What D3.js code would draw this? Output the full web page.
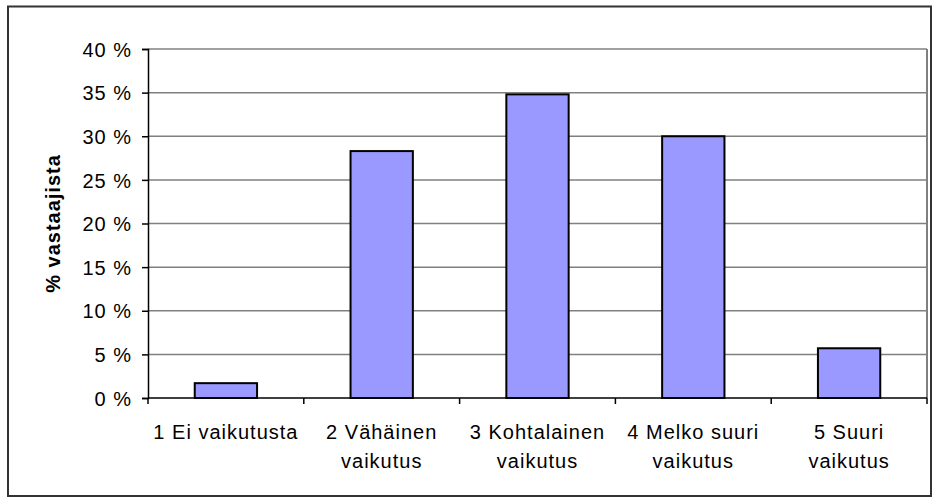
<!DOCTYPE html>
<html>
<head>
<meta charset="utf-8">
<script src="https://cdn.jsdelivr.net/npm/d3@7"></script>
<style>
  body { margin: 0; background: #fff; }
  text { font-family: "Liberation Sans", Arial, sans-serif; fill: #000; }
</style>
</head>
<body>
<script>
"use strict";

// data
let categories = ["1 Ei vaikutusta", "2 Vähäinen vaikutus", "3 Kohtalainen vaikutus", "4 Melko suuri vaikutus", "5 Suuri vaikutus"];
let labelLines = [["1 Ei vaikutusta"], ["2 Vähäinen", "vaikutus"], ["3 Kohtalainen", "vaikutus"], ["4 Melko suuri", "vaikutus"], ["5 Suuri", "vaikutus"]];
let values = [1.7, 28.3, 34.8, 30.0, 5.7];
let yTicks = [0, 5, 10, 15, 20, 25, 30, 35, 40];
let yTitle = "% vastaajista";

let w = 934, h = 499;
let plotLeft = 148, plotRight = 927, plotTop = 49, plotBottom = 398;

let svg = d3.select("body").append("svg")
    .attr("width", w)
    .attr("height", h);

// outer chart border
svg.append("rect")
    .attr("x", 8).attr("y", 6.5)
    .attr("width", 923).attr("height", 489.5)
    .attr("fill", "none")
    .attr("stroke", "#333")
    .attr("stroke-width", 2);

let x = d3.scaleBand()
    .domain(categories)
    .range([plotLeft, plotRight])
    .paddingInner(0.6)
    .paddingOuter(0.3);

let y = d3.scaleLinear()
    .domain([0, 40])
    .range([plotBottom, plotTop]);

// gridlines
svg.append("g")
    .selectAll("line")
    .data(yTicks.filter(function (d) { return d > 0; }))
    .enter()
    .append("line")
    .attr("x1", plotLeft).attr("x2", plotRight)
    .attr("y1", function (d) { return y(d); })
    .attr("y2", function (d) { return y(d); })
    .attr("stroke", "#808080")
    .attr("stroke-width", 1.5);

// right edge of plot area
svg.append("line")
    .attr("x1", plotRight).attr("x2", plotRight)
    .attr("y1", plotTop).attr("y2", plotBottom)
    .attr("stroke", "#808080")
    .attr("stroke-width", 2);

// bars
svg.append("g")
    .selectAll("rect")
    .data(values)
    .enter()
    .append("rect")
    .attr("x", function (d, i) { return x(categories[i]); })
    .attr("y", function (d) { return y(d); })
    .attr("width", x.bandwidth())
    .attr("height", function (d) { return y(0) - y(d); })
    .attr("fill", "#9999ff")
    .attr("stroke", "#000")
    .attr("stroke-width", 2);

// y axis
let yAxis = d3.axisLeft(y)
    .tickValues(yTicks)
    .tickSize(6)
    .tickPadding(10)
    .tickFormat(function (d) { return d + " %"; });

let gy = svg.append("g")
    .attr("transform", "translate(" + plotLeft + ",0)")
    .call(yAxis);
gy.select(".domain").attr("stroke", "#000").attr("stroke-width", 1.5);
gy.selectAll(".tick line").attr("stroke", "#000").attr("stroke-width", 1.5);
gy.selectAll(".tick text")
    .style("font-size", "20px")
    .style("letter-spacing", "1px")
    .attr("x", -16)
    .attr("dy", "0.36em");

// x axis: category boundary ticks
let bounds = d3.range(categories.length + 1).map(function (i) {
    return plotLeft + i * x.step();
});
svg.append("line")
    .attr("x1", plotLeft).attr("x2", plotRight)
    .attr("y1", plotBottom).attr("y2", plotBottom)
    .attr("stroke", "#000")
    .attr("stroke-width", 1.5);
svg.append("g")
    .selectAll("line")
    .data(bounds)
    .enter()
    .append("line")
    .attr("x1", function (d) { return d; })
    .attr("x2", function (d) { return d; })
    .attr("y1", plotBottom).attr("y2", plotBottom + 6)
    .attr("stroke", "#000")
    .attr("stroke-width", 1.5);

// category labels
let labels = svg.append("g")
    .selectAll("text")
    .data(labelLines)
    .enter()
    .append("text")
    .attr("text-anchor", "middle")
    .style("font-size", "20px")
    .style("letter-spacing", "1px")
    .attr("transform", function (d, i) {
        return "translate(" + (x(categories[i]) + x.bandwidth() / 2) + ",439)";
    });
labels.selectAll("tspan")
    .data(function (d) { return d; })
    .enter()
    .append("tspan")
    .attr("x", 0)
    .attr("y", function (d, i) { return i * 29; })
    .text(function (d) { return d; });

// y title
svg.append("text")
    .attr("transform", "translate(60," + ((plotTop + plotBottom) / 2) + ") rotate(-90)")
    .attr("text-anchor", "middle")
    .style("font-size", "20px")
    .style("font-weight", "bold")
    .style("letter-spacing", "1px")
    .text(yTitle);
</script>
</body>
</html>
